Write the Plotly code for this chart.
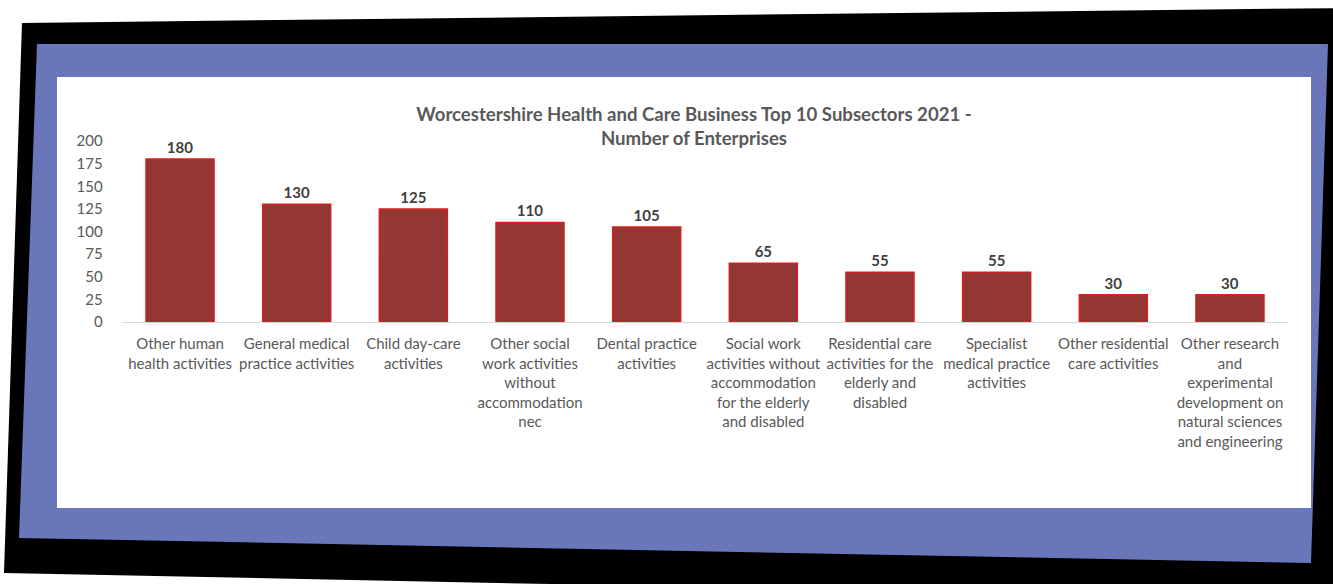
import plotly.graph_objects as go

categories = [
    "Other human<br>health activities",
    "General medical<br>practice activities",
    "Child day-care<br>activities",
    "Other social<br>work activities<br>without<br>accommodation<br>nec",
    "Dental practice<br>activities",
    "Social work<br>activities without<br>accommodation<br>for the elderly<br>and disabled",
    "Residential care<br>activities for the<br>elderly and<br>disabled",
    "Specialist<br>medical practice<br>activities",
    "Other residential<br>care activities",
    "Other research<br>and<br>experimental<br>development on<br>natural sciences<br>and engineering",
]
enterprises = [180, 130, 125, 110, 105, 65, 55, 55, 30, 30]
y_ticks = [0, 25, 50, 75, 100, 125, 150, 175, 200]

W, H = 1333, 584


def px(x, y):
    return f"{x / W:.5f},{1 - y / H:.5f}"


def poly(points):
    return "M " + " L ".join(px(x, y) for x, y in points) + " Z"


black_frame = [(22, 23), (1345, 8), (1345, 600), (4, 573)]
blue_frame = [(37, 44), (1328, 44), (1311, 563), (19, 538)]
white_panel = [(57, 77), (1311, 77), (1311, 508), (57, 508)]

fig = go.Figure(
    go.Bar(
        x=categories,
        y=enterprises,
        marker=dict(color="#943634", line=dict(color="#D42020", width=1.5)),
        text=enterprises,
        textposition="outside",
        cliponaxis=False,
        textfont=dict(family="Lato", size=15, color="#404040", weight="bold"),
        hoverinfo="skip",
    )
)

shapes = []
for pts, col in [(black_frame, "#000000"), (blue_frame, "#6977BA"), (white_panel, "#FFFFFF")]:
    shapes.append(dict(type="path", xref="paper", yref="paper", path=poly(pts),
                       fillcolor=col, line=dict(width=0), layer="below"))

fig.update_layout(
    width=W,
    height=H,
    autosize=False,
    margin=dict(l=0, r=0, t=0, b=0, pad=0, autoexpand=False),
    paper_bgcolor="#FFFFFF",
    plot_bgcolor="rgba(0,0,0,0)",
    shapes=shapes,
    bargap=0.417,
    showlegend=False,
    font=dict(family="Lato", color="#595959", size=15),
    title=dict(
        text="Worcestershire Health and Care Business Top 10 Subsectors 2021 -<br>Number of Enterprises",
        x=694 / W,
        xanchor="center",
        y=1 - 121 / H,
        yanchor="top",
        automargin=False,
        font=dict(family="Lato", size=18.6, color="#595959", weight="bold"),
    ),
    xaxis=dict(
        domain=[121.7 / W, 1288.3 / W],
        showline=True,
        linecolor="#D9D9D9",
        linewidth=1,
        showgrid=False,
        ticks="",
        tickangle=0,
        ticklabelstandoff=8,
        automargin=False,
        tickfont=dict(family="Lato", size=15, color="#595959"),
        fixedrange=True,
    ),
    yaxis=dict(
        domain=[1 - 322 / H, 1 - 141 / H],
        range=[0, 200],
        tickvals=y_ticks,
        showgrid=False,
        zeroline=False,
        showline=False,
        ticklabelstandoff=18,
        automargin=False,
        tickfont=dict(family="Lato", size=15, color="#595959"),
        fixedrange=True,
    ),
)

fig.write_html(
    "out.html",
    config={"displayModeBar": False},
    post_script="document.documentElement.style.margin='0';document.body.style.margin='0';document.body.style.overflow='hidden';",
)
